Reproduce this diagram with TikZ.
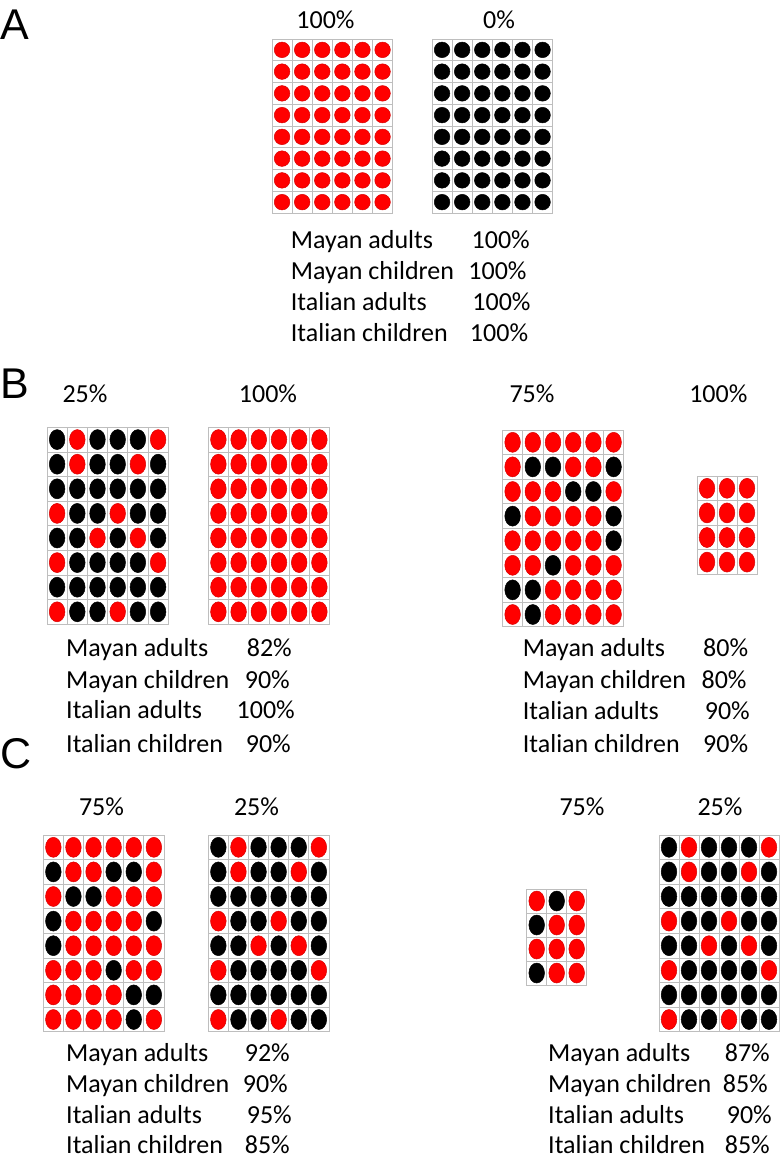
\documentclass[tikz,border=0pt]{standalone}
\usepackage{fontspec}
\setmainfont{Carlito}
\newfontfamily\panelfont{Liberation Sans}
\usetikzlibrary{positioning}

\definecolor{r}{RGB}{255,0,0}
\definecolor{k}{RGB}{0,0,0}
\definecolor{cellgray}{RGB}{190,190,190}

\tikzset{
  cell/.style={draw=cellgray,line width=.8pt},
  bead/.style={fill=#1,draw=#1!85!black,line width=.5pt},
  txt/.style={inner sep=0pt,font=\fontsize{26}{30}\selectfont},
  panel/.style={inner sep=0pt,anchor=base west,font=\panelfont\fontsize{43}{48}\selectfont}
}

% grid of beads: x, y, cell width, cell height, y radius, rows
\newcommand\beadgrid[6]{%
  \foreach \row [count=\j from 0] in {#6}{
    \foreach \c [count=\i from 0] in \row{
      \draw[cell] ({#1+\i*#3},{#2+\j*#4}) rectangle ++(#3,#4);
      \path[bead=\c] ({#1+(\i+.5)*#3},{#2+(\j+.5)*#4}) ellipse [x radius=7.8pt,y radius=#5pt];
    }
  }
}
% one-colour grid: x, y, cols, rows, cell width, cell height, y radius, colour
\newcommand\solidgrid[8]{%
  \foreach \i in {1,...,#3}{
    \foreach \j in {1,...,#4}{
      \draw[cell] ({#1+(\i-1)*#5},{#2+(\j-1)*#6}) rectangle ++(#5,#6);
      \path[bead=#8] ({#1+(\i-.5)*#5},{#2+(\j-.5)*#6}) ellipse [x radius=7.8pt,y radius=#7pt];
    }
  }
}
% score table: name, left x, list of label/baseline/right x/value
\newcommand\scores[3]{%
  \foreach \lab/\y/\xr/\p [count=\k] in {#3}{
    \node[txt,anchor=base west] (#1l\k) at (#2,\y) {\lab};
    \node[txt,anchor=base east] (#1p\k) at (\xr,\y) {\p};
  }
}

\begin{document}
\begin{tikzpicture}[x=1pt,y=-1pt]
\useasboundingbox (0,0) rectangle (783,1161);

%% A
\node[panel] (A) at (0,40) {A};
\node[txt,anchor=base] (aH1) at (325.5,29) {100\%};
\node[txt,anchor=base] (aH2) at (499,29) {0\%};
\solidgrid{272}{39}{6}{8}{20.1}{21.75}{7.8}{r}
\solidgrid{432}{39}{6}{8}{20.1}{21.75}{7.8}{k}
\scores{a}{290.7}{Mayan adults/248/530/100\%,Mayan children/279/526.7/100\%,
  Italian adults/310/530.7/100\%,Italian children/341/528.3/100\%}

%% B
\node[panel] (B) at (0,398) {B};
\node[txt,anchor=base] (bH1) at (85,402) {25\%};
\node[txt,anchor=base] (bH2) at (268,402) {100\%};
\node[txt,anchor=base] (bH3) at (532,402) {75\%};
\node[txt,anchor=base] (bH4) at (718.3,402) {100\%};
\beadgrid{47}{427.3}{20.2}{24.6}{10}{{k,r,k,k,k,r},{k,r,k,k,r,k},{k,k,k,k,k,k},{r,k,k,r,k,k},
  {k,k,r,k,r,k},{r,k,k,k,k,r},{k,k,k,k,k,k},{r,k,k,r,k,k}}
\solidgrid{208.3}{427.3}{6}{8}{20.2}{24.6}{10}{r}
\beadgrid{502.5}{430}{20.2}{24.6}{10}{{r,r,r,r,r,r},{r,k,k,r,r,k},{r,r,r,k,k,r},{k,r,r,r,r,k},
  {r,r,r,r,r,k},{r,r,k,r,r,r},{k,k,r,r,r,r},{r,k,r,r,r,r}}
\solidgrid{697}{476}{3}{4}{20}{24.6}{10}{r}
\scores{bl}{66}{Mayan adults/656.7/292/82\%,Mayan children/688.3/290/90\%,
  Italian adults/718.3/295/100\%,Italian children/752.7/291/90\%}
\scores{br}{522.7}{Mayan adults/656.7/748.3/80\%,Mayan children/688.3/746.7/80\%,
  Italian adults/719.3/750/90\%,Italian children/752.7/748.3/90\%}

%% C
\node[panel] (C) at (0,768) {C};
\node[txt,anchor=base] (cH1) at (101.5,815) {75\%};
\node[txt,anchor=base] (cH2) at (256.5,815) {25\%};
\node[txt,anchor=base] (cH3) at (582,815) {75\%};
\node[txt,anchor=base] (cH4) at (720,815) {25\%};
\beadgrid{43.3}{835}{20.1}{24.6}{10}{{r,r,r,r,r,r},{k,r,r,k,k,r},{r,k,k,r,r,r},{k,r,r,r,r,k},
  {k,r,r,r,r,r},{r,r,r,k,r,r},{r,r,r,r,k,k},{r,r,r,r,k,r}}
\beadgrid{208.3}{835}{20.1}{24.6}{10}{{k,r,k,k,k,r},{k,r,k,k,r,k},{k,k,k,k,k,k},{r,k,k,r,k,k},
  {k,k,r,k,r,k},{r,k,k,k,k,r},{k,k,k,k,k,k},{r,k,k,r,k,k}}
\beadgrid{526.7}{889}{20}{24}{10}{{r,k,r},{k,r,r},{r,r,r},{k,r,r}}
\beadgrid{659}{835}{20}{24.6}{10}{{k,r,k,k,k,r},{k,r,k,k,r,k},{k,k,k,k,k,k},{r,k,k,r,k,k},
  {k,k,r,k,r,k},{r,k,k,k,k,r},{k,k,k,k,k,k},{r,k,k,r,k,k}}
\scores{cl}{66}{Mayan adults/1061/290/92\%,Mayan children/1092/288/90\%,
  Italian adults/1123/292/95\%,Italian children/1153/290/85\%}
\scores{cr}{548}{Mayan adults/1061/770/87\%,Mayan children/1092/768/85\%,
  Italian adults/1123/772/90\%,Italian children/1153/770/85\%}
\end{tikzpicture}
\end{document}
